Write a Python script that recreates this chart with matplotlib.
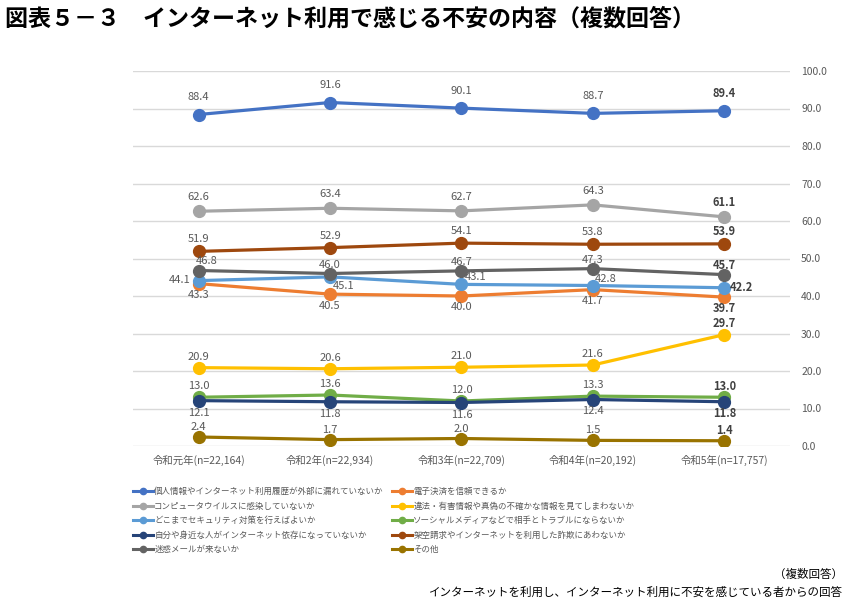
import matplotlib
matplotlib.use("Agg")
import matplotlib.pyplot as plt
from matplotlib.lines import Line2D

plt.rcParams["font.family"] = ["Noto Sans CJK JP", "DejaVu Sans"]

# 年度カテゴリ
years = ["令和元年(n=22,164)", "令和2年(n=22,934)", "令和3年(n=22,709)",
         "令和4年(n=20,192)", "令和5年(n=17,757)"]

# 系列（Excel の系列順）
names = [
    "個人情報やインターネット利用履歴が外部に漏れていないか",
    "電子決済を信頼できるか",
    "コンピュータウイルスに感染していないか",
    "違法・有害情報や真偽の不確かな情報を見てしまわないか",
    "どこまでセキュリティ対策を行えばよいか",
    "ソーシャルメディアなどで相手とトラブルにならないか",
    "自分や身近な人がインターネット依存になっていないか",
    "架空請求やインターネットを利用した詐欺にあわないか",
    "迷惑メールが来ないか",
    "その他",
]
personal = [88.4, 91.6, 90.1, 88.7, 89.4]
payment = [43.3, 40.5, 40.0, 41.7, 39.7]
virus = [62.6, 63.4, 62.7, 64.3, 61.1]
illegal = [20.9, 20.6, 21.0, 21.6, 29.7]
security = [44.1, 45.1, 43.1, 42.8, 42.2]
social = [13.0, 13.6, 12.0, 13.3, 13.0]
addiction = [12.1, 11.8, 11.6, 12.4, 11.8]
fraud = [51.9, 52.9, 54.1, 53.8, 53.9]
spam = [46.8, 46.0, 46.7, 47.3, 45.7]
other = [2.4, 1.7, 2.0, 1.5, 1.4]
series = [personal, payment, virus, illegal, security,
          social, addiction, fraud, spam, other]

colors = ["#4472C4", "#ED7D31", "#A5A5A5", "#FFC000", "#5B9BD5",
          "#70AD47", "#264478", "#9E480E", "#636363", "#997300"]

# ラベルの縦位置（ピクセル, 正=上）
label_dy = [17, -11.5, 14, 11, 0, 11, -12, 12, 9, 10]
# 個別の位置調整 (系列, 点): (dx, dy, ha)
overrides = {
    (4, 0): (-8, 1, "right"),
    (4, 1): (3, -9, "left"),
    (4, 2): (3, 7, "left"),
    (4, 3): (2, 7, "left"),
    (4, 4): (5, 0, "left"),
    (8, 0): (8, 9, "center"),
}

fig = plt.figure(figsize=(8.54, 6.04), dpi=100)
ax = fig.add_axes([133 / 854, 1 - 446 / 604, 657 / 854, 375 / 604])

x = list(range(len(years)))
handles = []
for i, (vals, c) in enumerate(zip(series, colors)):
    ax.plot(x, vals, color=c, lw=2.3, marker="o", ms=8.5, zorder=3)
    handles.append(Line2D([], [], color=c, lw=2.2, marker="o", ms=4.5))
    for j, v in enumerate(vals):
        dx, dy, ha = 0, label_dy[i], "center"
        if (i, j) in overrides:
            dx, dy, ha = overrides[(i, j)]
        last = j == len(vals) - 1
        ax.annotate(f"{v:.1f}", (j, v), xytext=(dx * 0.72, dy * 0.72),
                    textcoords="offset points", ha=ha, va="center",
                    fontsize=8, color="#404040" if last else "#595959",
                    fontweight="bold" if last else "normal", zorder=4)

ax.set_xlim(-0.5, 4.5)
ax.set_ylim(0, 100)
ax.set_yticks(range(0, 101, 10))
ax.set_yticklabels([f"{t:.1f}" for t in range(0, 101, 10)])
ax.yaxis.tick_right()
ax.set_xticks(x)
ax.set_xticklabels(years)
ax.tick_params(length=0, labelsize=7.5, labelcolor="#595959")
ax.tick_params(axis="y", pad=8)
ax.tick_params(axis="x", pad=6)
ax.grid(axis="y", color="#D9D9D9", lw=1)
ax.set_axisbelow(True)
for s in ax.spines.values():
    s.set_visible(False)

order = list(range(0, 10, 2)) + list(range(1, 10, 2))
fig.legend([handles[k] for k in order], [names[k] for k in order],
           ncol=2, loc="upper left", bbox_to_anchor=(133 / 854, 1 - 487 / 604),
           frameon=False, fontsize=6.1, labelcolor="#595959",
           handlelength=2.4, handletextpad=0.1, columnspacing=1.0,
           labelspacing=0.65, borderpad=0, borderaxespad=0)

fig.text(5 / 854, 1 - 19 / 604,
         "図表５－３　インターネット利用で感じる不安の内容（複数回答）",
         fontsize=16.6, fontweight="bold", va="center", ha="left")
fig.text(843 / 854, 1 - 574 / 604, "（複数回答）", fontsize=8.3,
         ha="right", va="center")
fig.text(843 / 854, 1 - 592 / 604,
         "インターネットを利用し、インターネット利用に不安を感じている者からの回答",
         fontsize=8.3, ha="right", va="center")

fig.savefig("out.png", dpi=100)
